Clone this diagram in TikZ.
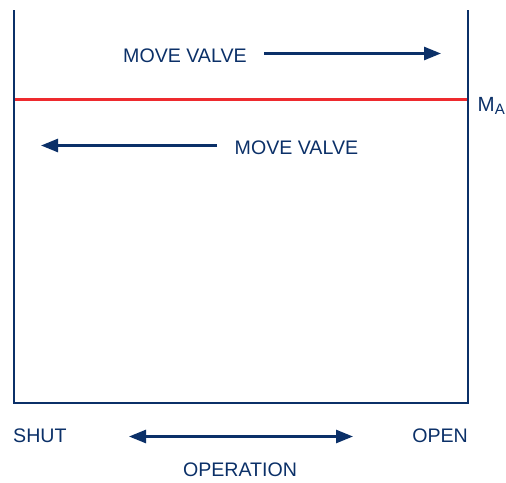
\documentclass[tikz,border=0pt]{standalone}
\usepackage{fontspec}
\setmainfont{Liberation Sans}
\usetikzlibrary{arrows.meta}
\definecolor{navy}{HTML}{0B3068}
\definecolor{limred}{HTML}{EE2A2E}
\begin{document}
\begin{tikzpicture}[x=1pt,y=-1pt,
  frame/.style={draw=navy,line width=2.8pt},
  lbl/.style={text=navy,font=\fontsize{19.6}{21}\selectfont,inner sep=0pt},
  arr/.style={draw=navy,line width=2.6pt,-{Triangle[length=17pt,width=13pt]}},
  darr/.style={draw=navy,line width=2.6pt,{Triangle[length=17pt,width=13pt]}-{Triangle[length=17pt,width=13pt]}}]
\useasboundingbox (0,0) rectangle (506,482);
% frame
\coordinate (tl) at (14,10);
\coordinate (bl) at (14,403);
\coordinate (br) at (468,403);
\coordinate (tr) at (468,10);
\draw[frame,line join=miter] (tl) -- (bl) -- (br) -- (tr);
% limit line
\coordinate (rl) at (15.4,99.5);
\coordinate (rr) at (466.6,99.5);
\draw[draw=limred,line width=2.5pt] (rl) -- (rr);
\node[lbl,anchor=base west,font=\fontsize{20.5}{22}\selectfont] (ma) at (477.5,111) {M\raisebox{-3pt}{\fontsize{15}{15}\selectfont A}};
% top
\node[lbl,anchor=west] (mv1) at (123,56) {MOVE VALVE};
\coordinate (a1s) at (264,53.5);
\coordinate (a1e) at (441,53.5);
\draw[arr] (a1s) -- (a1e);
% second
\node[lbl,anchor=west] (mv2) at (234.5,148) {MOVE VALVE};
\coordinate (a2s) at (217,145.5);
\coordinate (a2e) at (41,145.5);
\draw[arr] (a2s) -- (a2e);
% bottom
\node[lbl,anchor=west] (shut) at (13,436) {SHUT};
\node[lbl,anchor=east] (open) at (468,436) {OPEN};
\coordinate (b1) at (129,436.5);
\coordinate (b2) at (353,436.5);
\draw[darr] (b1) -- (b2);
\node[lbl] (op) at (240,470) {OPERATION};
\end{tikzpicture}
\end{document}
